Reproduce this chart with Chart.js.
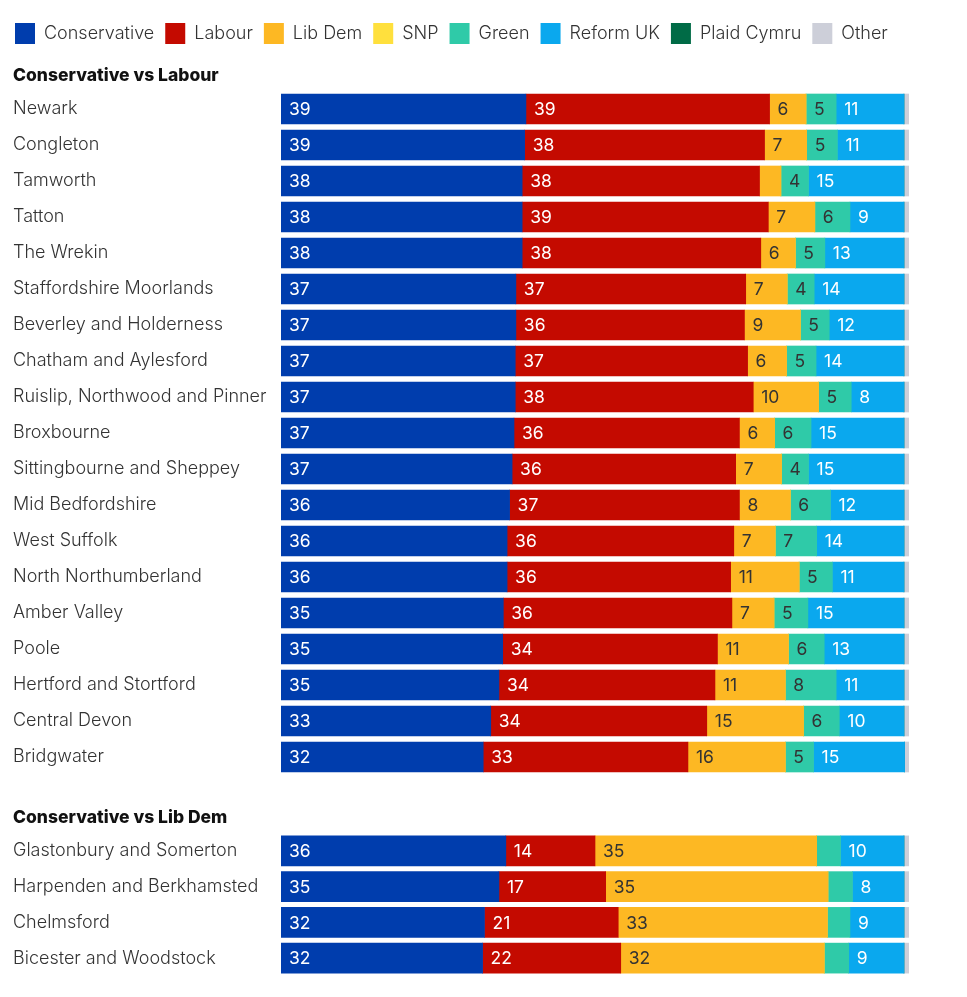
<!DOCTYPE html>
<html>
<head>
<meta charset="utf-8">
<script src="https://cdn.jsdelivr.net/npm/chart.js@4.4.1/dist/chart.umd.min.js"></script>
<style>
  body { margin: 0; background: #fff; }
  canvas { display: block; position: absolute; left: 0; }
  #labChart { top: 0; }
  #ldChart { top: 773px; }
</style>
</head>
<body>
<canvas id="labChart"></canvas>
<canvas id="ldChart"></canvas>
<script>
const partyNames = ['Conservative', 'Labour', 'Lib Dem', 'SNP', 'Green', 'Reform UK', 'Plaid Cymru', 'Other'];
const partyColours = ['#003DAD', '#C40A00', '#FDB823', '#FFE03D', '#2FCAA8', '#0AA8EE', '#006B46', '#CDCFD9'];
// label colour inside each segment
const labelColours = ['#fff', '#fff', '#333', '#333', '#333', '#fff', '#fff', '#333'];

// Conservative vs Labour seats
const labSeats = ['Newark', 'Congleton', 'Tamworth', 'Tatton', 'The Wrekin', 'Staffordshire Moorlands',
  'Beverley and Holderness', 'Chatham and Aylesford', 'Ruislip, Northwood and Pinner', 'Broxbourne',
  'Sittingbourne and Sheppey', 'Mid Bedfordshire', 'West Suffolk', 'North Northumberland', 'Amber Valley',
  'Poole', 'Hertford and Stortford', 'Central Devon', 'Bridgwater'];
const labCon = [39.0, 38.8, 38.4, 38.4, 38.4, 37.4, 37.4, 37.3, 37.3, 37.1, 36.8, 36.4, 36.0, 36.0, 35.4, 35.3, 34.7, 33.4, 32.2];
const labLab = [38.8, 38.2, 37.8, 39.2, 38.0, 36.6, 36.4, 37.0, 37.9, 35.9, 35.6, 36.6, 36.1, 35.6, 36.4, 34.2, 34.4, 34.4, 32.6];
const labLd  = [5.8, 6.7, 3.4, 7.4, 5.5, 6.6, 8.9, 6.2, 10.4, 5.6, 7.3, 8.1, 6.6, 10.9, 6.7, 11.3, 11.2, 15.4, 15.5];
const labSnp = [0, 0, 0, 0, 0, 0, 0, 0, 0, 0, 0, 0, 0, 0, 0, 0, 0, 0, 0];
const labGrn = [4.8, 4.9, 4.4, 5.6, 4.7, 4.3, 4.6, 4.7, 5.2, 5.8, 4.3, 6.4, 6.6, 5.3, 5.4, 5.7, 8.1, 5.7, 4.5];
const labRef = [10.8, 10.6, 15.2, 8.6, 12.6, 14.3, 11.9, 14.0, 8.4, 14.8, 15.2, 11.7, 13.9, 11.4, 15.3, 12.7, 10.8, 10.3, 14.5];
const labPc  = [0, 0, 0, 0, 0, 0, 0, 0, 0, 0, 0, 0, 0, 0, 0, 0, 0, 0, 0];
const labOth = [0.8, 0.8, 0.8, 0.8, 0.8, 0.8, 0.8, 0.8, 0.8, 0.8, 0.8, 0.8, 0.8, 0.8, 0.8, 0.8, 0.8, 0.8, 0.7];

// Conservative vs Lib Dem seats
const ldSeats = ['Glastonbury and Somerton', 'Harpenden and Berkhamsted', 'Chelmsford', 'Bicester and Woodstock'];
const ldCon = [35.8, 34.7, 32.4, 32.1];
const ldLab = [14.2, 17.0, 21.3, 22.0];
const ldLd  = [35.3, 35.4, 33.3, 32.4];
const ldSnp = [0, 0, 0, 0];
const ldGrn = [3.8, 3.9, 3.6, 3.9];
const ldRef = [10.1, 8.2, 8.6, 8.8];
const ldPc  = [0, 0, 0, 0];
const ldOth = [0.8, 0.8, 0.8, 0.8];

Chart.defaults.font.family = 'Inter, "Noto Sans", sans-serif';
Chart.defaults.color = '#333';

// writes the rounded share at the left of each segment (skips small ones)
const segmentLabels = {
  id: 'segmentLabels',
  afterDatasetsDraw(chart) {
    const ctx = chart.ctx;
    ctx.save();
    ctx.font = '17.5px Inter, "Noto Sans", sans-serif';
    ctx.textBaseline = 'middle';
    ctx.textAlign = 'left';
    chart.data.datasets.forEach((ds, i) => {
      if (ds.label === 'Other') return;
      chart.getDatasetMeta(i).data.forEach((bar, j) => {
        const v = ds.data[j];
        if (v < 4) return;
        const p = bar.getProps(['base', 'y']);
        ctx.fillStyle = labelColours[i];
        ctx.fillText(Math.round(v), p.base + 8, p.y + 1);
      });
    });
    ctx.restore();
  }
};

// pull the legend back to the left margin
const legendNudge = {
  id: 'legendNudge',
  afterLayout(chart) {
    if (chart.legend && chart.options.plugins.legend.display) chart.legend.left -= 9;
  }
};

function makeDatasets(series) {
  return partyNames.map((name, i) => ({
    label: name,
    data: series[i],
    backgroundColor: partyColours[i],
    borderWidth: 0,
    barThickness: 30
  }));
}

function renderSeatChart(canvasId, height, seats, series, heading, showLegend, topPad, titlePad) {
  const canvas = document.getElementById(canvasId);
  canvas.width = 967;
  canvas.height = height;

  const ctx = canvas.getContext('2d');
  return new Chart(ctx, {
    type: 'bar',
    data: {
      labels: seats,
      datasets: makeDatasets(series)
    },
    options: {
      indexAxis: 'y',
      responsive: false,
      animation: false,
      layout: { padding: { left: 13, right: 0, top: topPad, bottom: 0 } },
      scales: {
        x: { stacked: true, min: 0, max: 100, display: false },
        y: {
          stacked: true,
          grid: { display: false },
          border: { display: false },
          ticks: {
            crossAlign: 'far',
            padding: 0,
            color: '#333',
            font: { size: 18, weight: 300 }
          },
          afterFit: function(scale) {
            scale.width = 268;
            scale.paddingTop = 0;
            scale.paddingBottom = 0;
          }
        },
        // empty right-hand gutter
        gutter: {
          type: 'category',
          position: 'right',
          grid: { display: false },
          border: { display: false },
          ticks: { display: false },
          afterFit: function(scale) {
            scale.width = 58;
            scale.paddingTop = 0;
            scale.paddingBottom = 0;
          }
        }
      },
      plugins: {
        legend: {
          display: showLegend,
          position: 'top',
          align: 'start',
          labels: {
            boxWidth: 20,
            boxHeight: 21,
            padding: 11,
            color: '#333',
            font: { size: 18, weight: 300 }
          }
        },
        title: {
          display: true,
          text: heading,
          align: 'start',
          weight: 500,
          color: '#111',
          font: { size: 17.5, weight: 800 },
          padding: titlePad
        },
        tooltip: { enabled: false }
      }
    },
    plugins: [segmentLabels, legendNudge]
  });
}

renderSeatChart('labChart', 775, labSeats,
  [labCon, labLab, labLd, labSnp, labGrn, labRef, labPc, labOth],
  'Conservative vs Labour', true, 12, { top: 11.5, bottom: 4.5 });

renderSeatChart('ldChart', 203, ldSeats,
  [ldCon, ldLab, ldLd, ldSnp, ldGrn, ldRef, ldPc, ldOth],
  'Conservative vs Lib Dem', false, 0, { top: 34, bottom: 5 });
</script>
</body>
</html>
